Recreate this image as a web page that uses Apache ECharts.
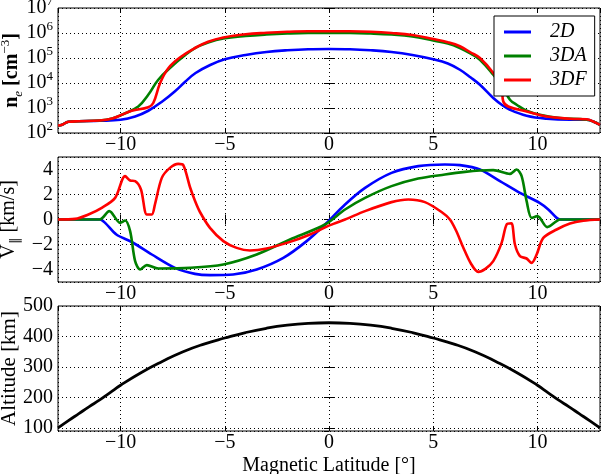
<!DOCTYPE html>
<html>
<head>
<meta charset="utf-8">
<script src="https://cdn.jsdelivr.net/npm/echarts@6/dist/echarts.min.js"></script>
<style>
  html, body { margin: 0; padding: 0; background: #fff; }
  #chart { width: 605px; height: 474px; }
</style>
</head>
<body>
<div id="chart"></div>
<script>
const seriesNames = ['2D', '3DA', '3DF']

// 电子密度 n_e [cm^-3]，[纬度, 值]
const ne2D = [[-13, 200], [-12.8, 214], [-12.5, 282], [-12, 295], [-11, 309], [-10, 339], [-9.3, 457],
  [-8.67, 776], [-8, 1820], [-7.4, 4570], [-6.9, 11200], [-6.4, 25100], [-5.7, 52500], [-5, 89100],
  [-4, 132000], [-3, 174000], [-2, 204000], [-1, 224000], [0, 229000], [1, 224000], [2, 204000],
  [3, 174000], [4, 132000], [5, 89100], [5.7, 60300], [6.28, 33900], [6.8, 16600], [7.24, 8510],
  [7.88, 2510], [8.3, 1320], [8.68, 851], [9.48, 490], [10.44, 372], [11.56, 339], [12.36, 339],
  [12.7, 282], [13, 209]]
const ne3DA = [[-13, 200], [-12.8, 214], [-12.5, 282], [-12, 295], [-11, 316], [-10.4, 380], [-9.94, 537],
  [-9.15, 1150], [-8.67, 3390], [-8.19, 13500], [-7.55, 45700], [-7, 112000], [-6.43, 251000],
  [-5.8, 417000], [-5.07, 603000], [-4, 759000], [-3, 871000], [-2, 955000], [-1, 1000000], [0, 1000000],
  [1, 1000000], [2, 955000], [3, 871000], [4, 724000], [5, 501000], [5.7, 380000], [6.28, 251000],
  [6.8, 148000], [7.24, 85100], [7.88, 21400], [8.36, 6310], [8.68, 2140], [9, 1350], [9.48, 776],
  [10.12, 537], [11.08, 398], [12.36, 339], [12.7, 282], [13, 209]]
const ne3DF = [[-13, 200], [-12.8, 214], [-12.5, 282], [-12, 295], [-11, 316], [-10.4, 380], [-9.94, 537],
  [-9.46, 776], [-8.67, 1070], [-8.43, 1580], [-8.1, 10000], [-7.7, 39800], [-7.1, 112000],
  [-6.43, 251000], [-5.8, 447000], [-5.07, 661000], [-4, 891000], [-3, 1020000], [-2, 1120000],
  [-1, 1170000], [0, 1170000], [1, 1170000], [2, 1120000], [3, 1000000], [4, 832000], [5, 575000],
  [5.7, 427000], [6.28, 295000], [6.8, 166000], [7.24, 100000], [7.88, 25100], [8.28, 6310],
  [8.36, 1820], [8.6, 1150], [9.48, 724], [10.44, 457], [11.56, 372], [12.36, 355], [12.7, 282], [13, 209]]

// 平行速度 V_|| [km/s]
const v2D = [[-13, 0], [-11.2, 0], [-10.98, 0], [-10.74, -0.27], [-10.2, -1.2], [-9.46, -1.8], [-8.5, -2.8],
  [-7.39, -3.87], [-6.43, -4.35], [-5.7, -4.45], [-4.6, -4.4], [-3.47, -4.0], [-2.19, -3.07],
  [-1.07, -1.73], [-0.19, -0.4], [0.77, 1.2], [1.73, 2.53], [3, 3.73], [4.28, 4.27], [5.56, 4.4],
  [6.28, 4.35], [7.24, 4.0], [8.2, 3.07], [9.16, 2.13], [10.1, 1.33], [10.52, 0.8], [10.92, 0.13],
  [11.1, 0], [13, 0]]
const v3DA = [[-13, 0], [-11, 0], [-10.54, 0.67], [-10.02, -0.27], [-9.78, -0.08], [-9.54, -0.93],
  [-9.3, -3.33], [-9.06, -4.0], [-8.74, -3.65], [-8.18, -3.92], [-6.67, -3.87], [-5.07, -3.6],
  [-3.47, -2.8], [-1.87, -1.6], [-0.19, -0.4], [0.77, 0.8], [1.73, 1.73], [3, 2.67], [4.28, 3.28],
  [5.56, 3.6], [6.52, 3.81], [7.24, 3.92], [7.88, 3.95], [8.68, 3.65], [9, 4.0], [9.24, 3.47],
  [9.48, 1.47], [9.72, 0.13], [10, 0.27], [10.47, -0.61], [10.92, -0.13], [11.08, 0], [13, 0]]
const v3DF = [[-13, 0], [-12.18, 0.05], [-11.54, 0.4], [-10.9, 0.93], [-10.26, 1.73], [-9.78, 3.47],
  [-9.54, 3.12], [-9.3, 3.07], [-9.02, 2.4], [-8.74, 0.4], [-8.5, 0.4], [-8.35, 1.2], [-8.02, 3.33],
  [-7.63, 4.13], [-7.23, 4.45], [-6.99, 4.35], [-6.67, 2.6], [-6.43, 1.5], [-6.19, 0.6], [-5.71, -0.67],
  [-5.07, -1.73], [-4.43, -2.27], [-3.79, -2.48], [-2.99, -2.32], [-1.87, -1.79], [-0.91, -1.2],
  [0.05, -0.45], [0.77, 0], [1.73, 0.67], [3, 1.39], [3.8, 1.6], [4.6, 1.39], [5.4, 0.6], [5.8, 0],
  [6.1, -0.9], [6.43, -2.2], [6.8, -3.5], [7.16, -4.19], [7.5, -3.95], [7.88, -3.33], [8.28, -1.87],
  [8.52, -0.4], [8.75, -0.3], [8.92, -2.0], [9.16, -2.93], [9.48, -3.12], [9.72, -3.47], [9.96, -2.8],
  [10.28, -1.47], [10.92, -0.8], [11.56, -0.32], [12.2, -0.1], [13, 0]]

// 高度 [km]
const altLat = [-13, -12.5, -12, -11.5, -11, -10.5, -10, -9, -8, -7, -6, -5, -4, -3, -2, -1, 0,
  1, 2, 3, 4, 5, 6, 7, 8, 9, 10, 10.5, 11, 11.5, 12, 12.5, 13]
const altitude = [100, 124, 147, 170, 192, 216, 240, 282, 318, 350, 375, 395, 413, 427, 437, 443, 445,
  443, 437, 427, 413, 395, 375, 350, 318, 282, 240, 216, 192, 170, 147, 124, 100]

const colors = ['#0000ff', '#008000', '#ff0000']
const font = 'Liberation Serif'
const gridTops = [8, 157, 306]

const chart = echarts.init(document.getElementById('chart'))

const gridLine = { show: true, lineStyle: { color: '#000', type: [1, 3], width: 1 } }
const tick = { inside: true, length: 5, lineStyle: { color: '#000' } }
const minus = v => String(v).replace('-', '\u2212')

function mirrorX(i) {
  return {
    type: 'value', gridIndex: i, min: -13, max: 13, minInterval: 5, maxInterval: 5, position: 'top',
    axisLine: { show: false }, axisLabel: { show: false }, splitLine: { show: false }, axisTick: tick
  }
}
function mainX(i) {
  return {
    type: 'value', gridIndex: i, min: -13, max: 13, minInterval: 5, maxInterval: 5,
    axisLine: { show: false }, axisTick: tick, splitLine: gridLine,
    axisLabel: {
      color: '#000', fontFamily: font, fontSize: 20, margin: 2,
      showMinLabel: false, showMaxLabel: false, formatter: minus
    }
  }
}

const option = {
  animation: false,
  grid: gridTops.map(t => ({
    left: 58, right: 5, top: t, height: 125,
    containLabel: false, outerBoundsMode: 'none',
    show: true, borderColor: '#000', borderWidth: 1, backgroundColor: '#fff'
  })),
  legend: {
    data: seriesNames,
    orient: 'vertical',
    left: 494, top: 16,
    padding: [6, 8, 6, 10],
    itemGap: 4,
    itemWidth: 27, itemHeight: 3,
    icon: 'rect',
    backgroundColor: '#fff', borderColor: '#000', borderWidth: 1,
    textStyle: { fontFamily: font, fontStyle: 'italic', fontSize: 20, color: '#000', padding: [0, 0, 0, 14] }
  },
  xAxis: [mainX(0), mainX(1), Object.assign(mainX(2), {
    name: 'Magnetic Latitude [°]', nameLocation: 'middle', nameGap: 25, nameMoveOverlap: false,
    nameTextStyle: { fontFamily: font, fontSize: 20, color: '#000' }
  }), mirrorX(0), mirrorX(1), mirrorX(2)],
  yAxis: [
    {
      type: 'log', logBase: 10, gridIndex: 0, min: 100, max: 1e7,
      axisLine: { show: false }, axisTick: tick, splitLine: gridLine,
      axisLabel: {
        margin: 5,
        formatter: v => '{b|10}{s|' + Math.round(Math.log10(v)) + '}',
        rich: {
          b: { fontFamily: font, fontSize: 20, color: '#000', lineHeight: 26 },
          s: { fontFamily: font, fontSize: 13, color: '#000', lineHeight: 13, verticalAlign: 'top' }
        }
      },
      name: '{b|n}{sub|e}{b| [cm}{sup|\u22123}{b|]}',
      nameLocation: 'middle', nameGap: 33, nameMoveOverlap: false,
      nameTextStyle: {
        rich: {
          b: { fontFamily: font, fontSize: 20, fontWeight: 'bold', color: '#000', lineHeight: 26 },
          sub: { fontFamily: font, fontSize: 13, fontStyle: 'italic', color: '#000', lineHeight: 13, verticalAlign: 'bottom' },
          sup: { fontFamily: font, fontSize: 13, color: '#000', lineHeight: 13, verticalAlign: 'top' }
        }
      }
    },
    {
      type: 'value', gridIndex: 1, min: -5, max: 5, minInterval: 2, maxInterval: 2,
      axisLine: { show: false }, axisTick: tick, splitLine: gridLine,
      axisLabel: {
        color: '#000', fontFamily: font, fontSize: 20, margin: 5,
        showMinLabel: false, showMaxLabel: false, formatter: minus
      },
      name: '{b|V}{sub|\u2225}{b| [km/s]}',
      nameLocation: 'middle', nameGap: 36, nameMoveOverlap: false,
      nameTextStyle: {
        rich: {
          b: { fontFamily: font, fontSize: 20, color: '#000', lineHeight: 26 },
          sub: { fontFamily: font, fontSize: 13, color: '#000', lineHeight: 13, verticalAlign: 'bottom' }
        }
      }
    },
    {
      type: 'value', gridIndex: 2, min: 90, max: 500, minInterval: 100, maxInterval: 100,
      axisLine: { show: false }, axisTick: tick, splitLine: gridLine,
      axisLabel: { color: '#000', fontFamily: font, fontSize: 20, margin: 5, showMinLabel: false },
      name: 'Altitude [km]',
      nameLocation: 'middle', nameGap: 38, nameMoveOverlap: false,
      nameTextStyle: { fontFamily: font, fontSize: 21, color: '#000' }
    },
    { type: 'log', logBase: 10, gridIndex: 0, min: 100, max: 1e7, position: 'right',
      axisLine: { show: false }, axisLabel: { show: false }, splitLine: { show: false }, axisTick: tick },
    { type: 'value', gridIndex: 1, min: -5, max: 5, minInterval: 2, maxInterval: 2, position: 'right',
      axisLine: { show: false }, axisLabel: { show: false }, splitLine: { show: false }, axisTick: tick },
    { type: 'value', gridIndex: 2, min: 90, max: 500, minInterval: 100, maxInterval: 100, position: 'right',
      axisLine: { show: false }, axisLabel: { show: false }, splitLine: { show: false }, axisTick: tick }
  ],
  series: []
}

const neData = [ne2D, ne3DA, ne3DF]
const vData = [v2D, v3DA, v3DF]
seriesNames.forEach((name, i) => {
  option.series.push({
    name, type: 'line', xAxisIndex: 0, yAxisIndex: 0, data: neData[i],
    showSymbol: false, smooth: 0.4,
    lineStyle: { color: colors[i], width: 2.6 }, itemStyle: { color: colors[i] }
  })
})
seriesNames.forEach((name, i) => {
  option.series.push({
    name, type: 'line', xAxisIndex: 1, yAxisIndex: 1, data: vData[i],
    showSymbol: false, smooth: 0.3,
    lineStyle: { color: colors[i], width: 2.6 }, itemStyle: { color: colors[i] }
  })
})
option.series.push({
  name: 'altitude', type: 'line', xAxisIndex: 2, yAxisIndex: 2,
  data: altLat.map((x, k) => [x, altitude[k]]),
  showSymbol: false, smooth: 0.5,
  lineStyle: { color: '#000', width: 2.8 }, itemStyle: { color: '#000' }
})

chart.setOption(option)
</script>
</body>
</html>
